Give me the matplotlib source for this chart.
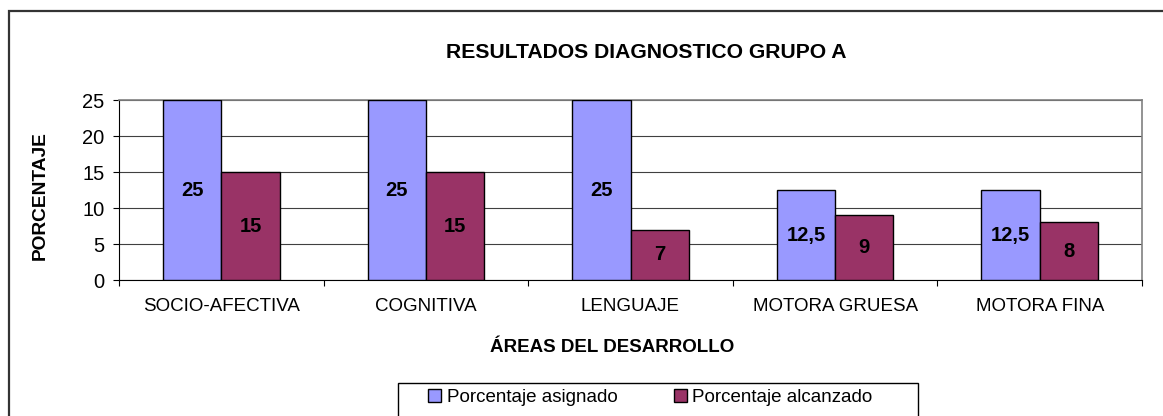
import matplotlib
matplotlib.use("Agg")
import matplotlib.pyplot as plt
from matplotlib.patches import Rectangle
import numpy as np

plt.rcParams['font.family'] = ['Liberation Sans', 'DejaVu Sans']

categories = ["SOCIO-AFECTIVA", "COGNITIVA", "LENGUAJE", "MOTORA GRUESA", "MOTORA FINA"]
asignado = [25, 25, 25, 12.5, 12.5]
alcanzado = [15, 15, 7, 9, 8]
series_names = ["Porcentaje asignado", "Porcentaje alcanzado"]
yticks = [0, 5, 10, 15, 20, 25]
title = "RESULTADOS DIAGNOSTICO GRUPO A"
xlabel = "ÁREAS DEL DESARROLLO"
ylabel = "PORCENTAJE"

W, H = 1163, 416
fig = plt.figure(figsize=(W / 100, H / 100), dpi=100)
fig.patch.set_facecolor('white')

def fx(px):
    return px / W

def fy(py):
    return 1 - py / H

ax = fig.add_axes([fx(119), fy(280), fx(1142) - fx(119), fy(100) - fy(280)])

x = np.arange(len(categories))
w = 0.285
fs = 13.5
b1 = ax.bar(x - w / 2, asignado, w, color='#9999FF', edgecolor='black', linewidth=1.0,
            label=series_names[0], zorder=3)
b2 = ax.bar(x + w / 2, alcanzado, w, color='#993366', edgecolor='black', linewidth=1.0,
            label=series_names[1], zorder=3)

fmt = lambda v: f"{v:g}".replace('.', ',')
ax.bar_label(b1, labels=[fmt(v) for v in asignado], label_type='center',
             fontsize=14.5, fontweight='bold', color='black')
ax.bar_label(b2, labels=[fmt(v) for v in alcanzado], label_type='center',
             fontsize=14.5, fontweight='bold', color='black')

ax.set_xlim(-0.5, len(categories) - 0.5)
ax.set_ylim(0, 25)
ax.set_yticks(yticks)
ax.set_yticklabels([str(t) for t in yticks], fontsize=14.5)
ax.yaxis.grid(True, color='#404040', linewidth=0.8, zorder=0)
ax.set_axisbelow(True)

ax.set_xticks(x)
ax.set_xticklabels(categories, fontsize=fs)
ax.set_xticks(np.arange(-0.5, len(categories), 1.0), minor=True)
ax.tick_params(axis='x', which='major', length=0, pad=13)
ax.tick_params(axis='x', which='minor', length=4.5, width=0.8, direction='out')
ax.tick_params(axis='y', length=4.5, width=0.8, pad=6)

for s in ['top', 'right']:
    ax.spines[s].set_color('#808080')
    ax.spines[s].set_linewidth(1.2)
for s in ['left', 'bottom']:
    ax.spines[s].set_color('black')
    ax.spines[s].set_linewidth(0.8)

fig.text(fx(646), fy(53), title, ha='center', va='center', fontsize=15.2, fontweight='bold')
fig.text(fx(612), fy(348), xlabel, ha='center', va='center', fontsize=fs, fontweight='bold')
fig.text(fx(40), fy(196), ylabel, ha='center', va='center', rotation=90, fontsize=13.8,
         fontweight='bold')

# outer chart border
fig.patches.append(Rectangle((fx(8.5), -0.2), 1.5, fy(10.5) + 0.2, transform=fig.transFigure,
                             fill=False, edgecolor='#333333', linewidth=1.6, zorder=0))
# legend frame
fig.patches.append(Rectangle((fx(398), -0.05), fx(918) - fx(398), fy(383) + 0.05,
                             transform=fig.transFigure, fill=False, edgecolor='black',
                             linewidth=1.0, zorder=5))

leg = fig.legend(handles=[b1, b2], labels=series_names, loc='upper left',
                 bbox_to_anchor=(fx(428), fy(389)), ncol=2, frameon=False,
                 borderpad=0, borderaxespad=0, handlelength=0.7, handleheight=0.7,
                 handletextpad=0.3, columnspacing=3.0, fontsize=fs)

fig.savefig("out.png", dpi=100)
